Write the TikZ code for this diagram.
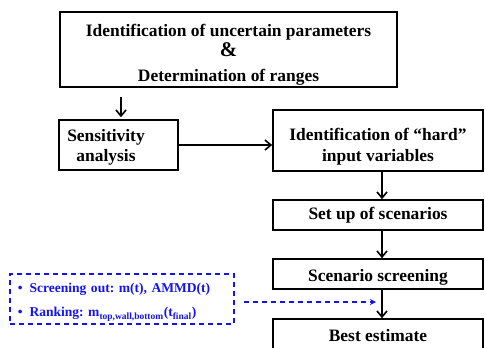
\documentclass[tikz,border=0pt]{standalone}
\usepackage{fontspec}
\setmainfont{Liberation Serif}
\usetikzlibrary{arrows.meta}
\definecolor{scrblue}{RGB}{20,20,235}
\frenchspacing
\newcommand{\lift}[1]{\rule{0pt}{#1}}

\begin{document}
\begin{tikzpicture}[x=1bp,y=-1bp,
    stepbox/.style={draw=black, line width=1.6bp, font=\fontsize{17.5}{21}\selectfont\bfseries,
        align=center, inner sep=0pt},
    flow/.style={line width=1.6bp, -{Straight Barb[length=6bp,width=10bp,line width=1.6bp]}},
    notebox/.style={draw=scrblue, line width=1.4bp, dash pattern=on 5bp off 4bp,
        text=scrblue, font=\fontsize{13.6}{15}\selectfont\bfseries, align=left, inner sep=0pt},
    noteflow/.style={draw=scrblue, line width=1.3bp, dash pattern=on 5bp off 4bp,
        -{Stealth[length=6bp,width=6bp]}, scrblue}]

\useasboundingbox (0,0) rectangle (485,347);
\clip (0,0) rectangle (485,347);

% Left column
\node[stepbox, minimum width=337bp, minimum height=75bp] (ident) at (228.5,49.5)
    {\lift{22bp}Identification of uncertain parameters\\[-1bp]
     {\fontsize{21}{19}\selectfont\&}\\[4bp]
     Determination of ranges};
\node[stepbox, minimum width=119bp, minimum height=50bp] (sens) at (118.5,145)
    {\begin{tabular}{@{}c@{}}\lift{20bp}Sensitivity\\[-1bp]analysis\end{tabular}\hspace{25bp}};

% Right column
\node[stepbox, minimum width=210bp, minimum height=61bp] (hard) at (378,140.5)
    {\lift{24bp}Identification of ``hard''\\input variables};
\node[stepbox, minimum width=210bp, minimum height=30bp] (setup) at (378,215)
    {Set up of scenarios};
\node[stepbox, minimum width=210bp, minimum height=30bp] (screen) at (378,274)
    {\lift{19bp}Scenario screening};
\node[stepbox, minimum width=210bp, minimum height=34bp] (best) at (378,336)
    {Best estimate};

% Screening criteria
\node[notebox, minimum width=224bp, minimum height=50bp, text width=208bp] (crit) at (122,299)
    {\lift{16bp}\textbullet\enspace Screening out: m(t), AMMD(t)\\[9bp]
     \textbullet\enspace Ranking: m\textsubscript{top,wall,bottom}(t\textsubscript{final})};
\coordinate (hit) at (376,302);

% Connectors
\draw[flow, shorten <=9bp, shorten >=2bp] ([xshift=2.5bp]ident.south -| sens) -- ([xshift=2.5bp]sens.north);
\draw[flow] (sens.east) -- (sens.east -| hard.west);
\draw[flow] ([xshift=4bp]hard.south) -- ([xshift=4bp]setup.north);
\draw[flow] ([xshift=4bp]setup.south) -- ([xshift=4bp]screen.north);
\draw[flow] ([xshift=4bp]screen.south) -- ([xshift=4bp]best.north);
\draw[noteflow, shorten <=9bp] (crit.east |- hit) -- (hit);

\end{tikzpicture}
\end{document}
